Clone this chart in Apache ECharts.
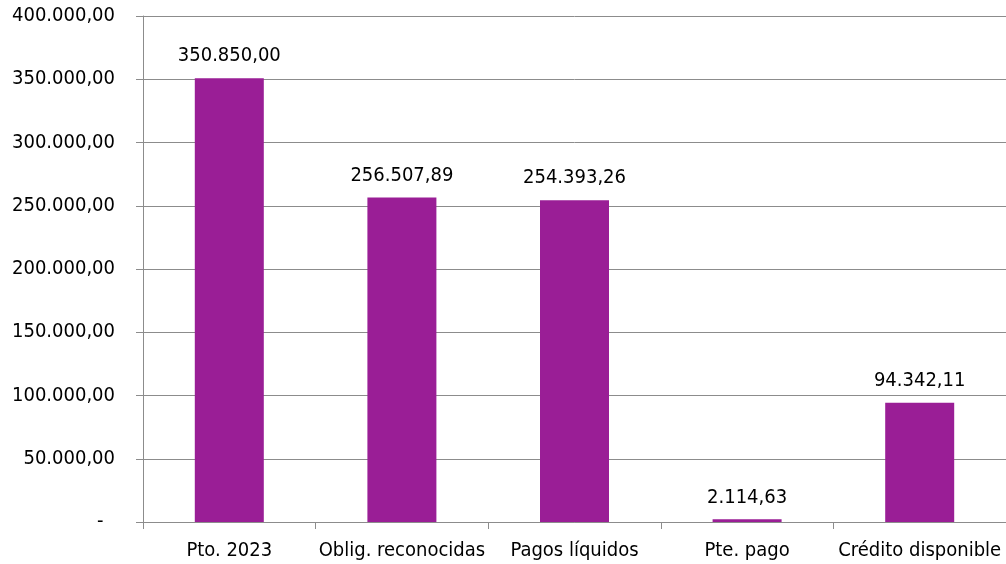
<!DOCTYPE html>
<html>
<head>
<meta charset="utf-8">
<script src="https://cdn.jsdelivr.net/npm/echarts@6/dist/echarts.min.js"></script>
<style>
html,body{margin:0;padding:0;background:#fff;}
#chart{width:1006px;height:564px;}
</style>
</head>
<body>
<div id="chart"></div>
<script>
const categories = ['Pto. 2023', 'Oblig. reconocidas', 'Pagos líquidos', 'Pte. pago', 'Crédito disponible'];
const values = [350850.00, 256507.89, 254393.26, 2114.63, 94342.11];
const yMin = 0, yMax = 400000, yInterval = 50000;

function fmt(v) {
  const parts = Math.abs(v).toFixed(2).split('.');
  const intPart = parts[0].replace(/\B(?=(\d{3})+(?!\d))/g, '.');
  return (v < 0 ? '-' : '') + intPart + ',' + parts[1];
}

const FONT = '"DejaVu Sans Condensed", "DejaVu Sans", sans-serif';
const chart = echarts.init(document.getElementById('chart'), null, {renderer: 'canvas'});
chart.setOption({
  animation: false,
  backgroundColor: '#ffffff',
  grid: {left: 143, top: 16, width: 866, bottom: 42, containLabel: false},
  xAxis: {
    type: 'category',
    data: categories,
    axisLine: {show: true, lineStyle: {color: '#8c8c8c', width: 1}},
    axisTick: {show: true, length: 7, lineStyle: {color: '#8c8c8c'}},
    axisLabel: {color: '#000', fontFamily: FONT, fontSize: 20, margin: 19, interval: 0}
  },
  yAxis: {
    type: 'value',
    min: yMin, max: yMax, interval: yInterval,
    axisLine: {show: true, lineStyle: {color: '#8c8c8c', width: 1}},
    axisTick: {show: true, length: 7, lineStyle: {color: '#8c8c8c'}},
    splitLine: {show: true, lineStyle: {color: '#8c8c8c', width: 1}},
    axisLabel: {
      color: '#000', fontFamily: FONT, fontSize: 20, margin: 28,
      padding: [4, 0, 0, 0],
      formatter: v => v === 0 ? '-  ' : fmt(v)
    }
  },
  series: [{
    type: 'bar',
    data: values,
    barWidth: 69,
    itemStyle: {color: '#9a1e96'},
    label: {
      show: true, position: 'top', distance: 12,
      color: '#000', fontFamily: FONT, fontSize: 20,
      formatter: p => fmt(p.value)
    }
  }]
});
</script>
</body>
</html>
